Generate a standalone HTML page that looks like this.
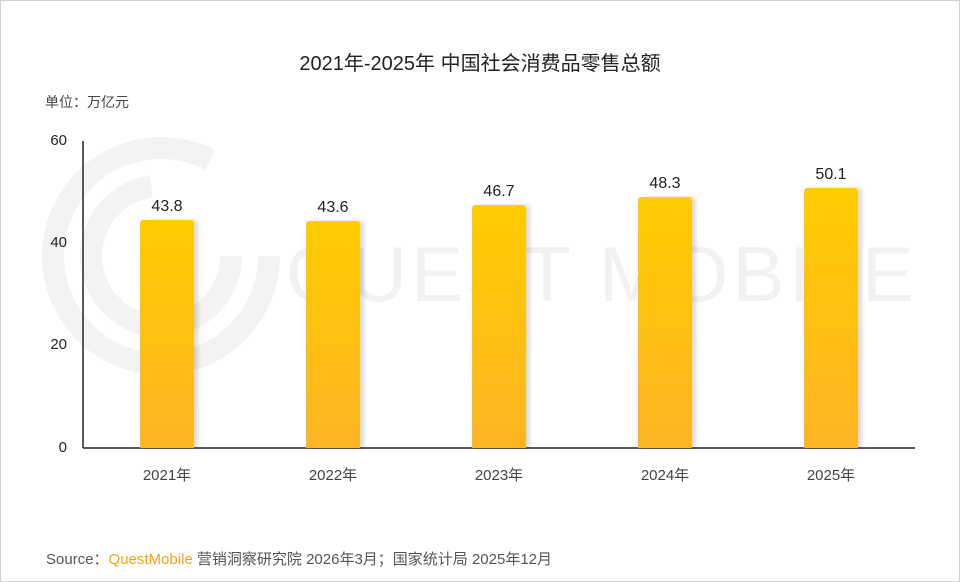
<!DOCTYPE html>
<html><head><meta charset="utf-8"><style>
html,body{margin:0;padding:0;background:#fff}
.w{position:relative;width:958px;height:580px;border:1px solid #d0d0d0;overflow:hidden;font-family:"Liberation Sans","Noto Sans CJK SC",sans-serif;color:#333}
.t{position:absolute;left:0;width:958px;top:46px;text-align:center;font-size:20px;color:#222}
.u{position:absolute;left:44px;top:91px;font-size:14px;color:#444}
.yl{position:absolute;width:30px;text-align:right;left:36px;font-size:15px;color:#222}
.xl{position:absolute;width:100px;text-align:center;top:463px;font-size:15px;color:#444}
.bar{position:absolute;width:54px;bottom:133px;background:linear-gradient(#ffcc00,#fdb524);border-radius:3px 3px 0 0;box-shadow:4px 0 4px rgba(0,0,0,0.15)}
.v{position:absolute;width:80px;text-align:center;font-size:16px;color:#222}
.s{position:absolute;left:45px;top:547px;font-size:15px;color:#555}
.wm{position:absolute;left:285px;top:222px;font-size:78px;color:#f2f2f2;letter-spacing:4px;font-family:"Liberation Sans",sans-serif}
</style></head><body><div class="w">
<svg style="position:absolute;left:0;top:0" width="958" height="580">
<g fill="none" stroke="#f3f3f3" stroke-width="22">
<circle cx="160" cy="255" r="108" stroke-dasharray="560 120"/>
<circle cx="160" cy="255" r="70" stroke-dasharray="320 120"/>
</g>
<text x="285" y="300" font-family="Liberation Sans" font-size="78" fill="#f2f2f2" letter-spacing="4">QUEST MOBILE</text>
<line x1="82" y1="140" x2="82" y2="447" stroke="#222" stroke-width="1.5"/>
<line x1="82" y1="447" x2="914" y2="447" stroke="#222" stroke-width="1.5"/>
</svg>
<div class="t">2021年-2025年 中国社会消费品零售总额</div>
<div class="u">单位：万亿元</div>
<div class="yl" style="top:131px">60</div>
<div class="yl" style="top:233px">40</div>
<div class="yl" style="top:335px">20</div>
<div class="yl" style="top:438px">0</div>
<div class="bar" style="left:139px;height:228px"></div>
<div class="bar" style="left:305px;height:227px"></div>
<div class="bar" style="left:471px;height:243px"></div>
<div class="bar" style="left:637px;height:251px"></div>
<div class="bar" style="left:803px;height:260px"></div>
<div class="v" style="left:126px;top:197px">43.8</div>
<div class="v" style="left:292px;top:198px">43.6</div>
<div class="v" style="left:458px;top:182px">46.7</div>
<div class="v" style="left:624px;top:174px">48.3</div>
<div class="v" style="left:790px;top:165px">50.1</div>
<div class="xl" style="left:116px">2021年</div>
<div class="xl" style="left:282px">2022年</div>
<div class="xl" style="left:448px">2023年</div>
<div class="xl" style="left:614px">2024年</div>
<div class="xl" style="left:780px">2025年</div>
<div class="s">Source：<span style="color:#f7a21b">QuestMobile</span> 营销洞察研究院 2026年3月；国家统计局 2025年12月</div>
</div></body></html>
